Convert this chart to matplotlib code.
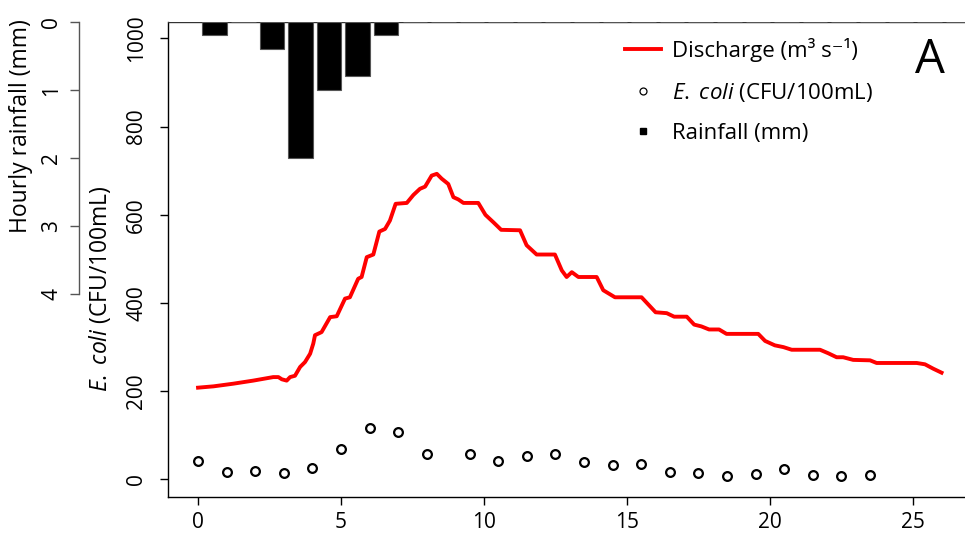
import matplotlib
matplotlib.use('Agg')
import matplotlib.pyplot as plt
from matplotlib.lines import Line2D

plt.rcParams['font.family'] = ['Open Sans', 'DejaVu Sans']
plt.rcParams['mathtext.fontset'] = 'custom'
plt.rcParams['mathtext.rm'] = 'Open Sans'
plt.rcParams['mathtext.it'] = 'Open Sans:italic'

# ============================================================
# data
# ============================================================
# hourly rainfall, bars drawn at hour + 0.58
rain_hours = [0, 1, 2, 3, 4, 5, 6, 7, 8, 9, 10, 11, 12, 13, 14,
              15, 16, 17, 18, 19, 20, 21, 22, 23, 24, 25, 26]
rain_mm = [0.2, 0.0, 0.4, 2.0, 1.0, 0.8, 0.2, 0.0, 0.0, 0.0, 0.0, 0.0, 0.0, 0.0, 0.0,
           0.0, 0.0, 0.0, 0.0, 0.0, 0.0, 0.0, 0.0, 0.0, 0.0, 0.0, 0.0]

# E. coli samples
ecoli_hours = [0, 1, 2, 3, 4, 5, 6, 7, 8, 9.5, 10.5, 11.5, 12.5, 13.5, 14.5,
               15.5, 16.5, 17.5, 18.5, 19.5, 20.5, 21.5, 22.5, 23.5]
ecoli_cfu = [42, 16, 20, 15, 26, 68, 116, 107, 57, 58, 41, 52, 57, 39, 33,
             34, 17, 15, 7, 12, 24, 11, 8, 11]

# discharge trace (drawn on the E. coli scale)
q_hours = [0.0, 0.54, 1.23, 1.93, 2.28, 2.63, 2.81, 2.93, 3.1, 3.22, 3.39, 3.57, 3.74,
           3.92, 4.03, 4.09, 4.32, 4.62, 4.85, 5.14, 5.31, 5.6, 5.72, 5.9, 6.13, 6.34,
           6.54, 6.71, 6.91, 7.3, 7.53, 7.76, 7.94, 8.17, 8.35, 8.52, 8.75, 8.93, 9.1,
           9.28, 9.8, 10.05, 10.33, 10.6, 11.26, 11.49, 11.84, 12.48, 12.72, 12.89,
           13.07, 13.3, 13.94, 14.17, 14.58, 15.51, 16.0, 16.39, 16.65, 17.09, 17.35,
           17.6, 17.87, 18.22, 18.48, 19.59, 19.83, 20.17, 20.47, 20.76, 21.75, 22.04,
           22.33, 22.56, 22.91, 23.5, 23.73, 25.13, 25.42, 25.71, 26.0]
q_vals = [208, 211, 217, 224, 228, 232, 232, 227, 224, 232, 235, 255, 266,
          285, 308, 327, 334, 368, 370, 410, 413, 455, 459, 504, 510, 562,
          568, 587, 625, 627, 645, 659, 664, 689, 693, 682, 670, 640, 635,
          627, 627, 600, 583, 566, 565, 531, 510, 510, 474, 459,
          470, 459, 459, 429, 413, 413, 379, 377, 369, 369, 351,
          347, 340, 340, 330, 330, 314, 304, 300, 294, 294, 286,
          277, 277, 271, 270, 264, 264, 261, 251, 242]

x_ticks = [0, 5, 10, 15, 20, 25]
ecoli_ticks = [0, 200, 400, 600, 800, 1000]
rain_ticks = [0, 1, 2, 3, 4]

# ============================================================
# plot
# ============================================================
fig = plt.figure(figsize=(9.65, 5.39), dpi=100)
ax = fig.add_axes([0.1741, 0.0779, 0.8259, 0.8818])

ax.plot(q_hours, q_vals, color='#ff0000', lw=2.8, solid_joinstyle='round', zorder=3)
ax.plot(ecoli_hours, ecoli_cfu, ls='none', marker='o', ms=6.3, mfc='none',
        mec='black', mew=1.6, zorder=4)

ax.set_xlim(-1.05, 26.82)
ax.set_ylim(-40, 1038)
ax.set_xticks(x_ticks)
ax.set_yticks(ecoli_ticks)
ax.spines['top'].set_visible(False)
ax.spines['right'].set_visible(False)
for s in ['left', 'bottom']:
    ax.spines[s].set_linewidth(1.0)
ax.tick_params(axis='both', length=6, width=1.0, labelsize=15)
ax.tick_params(axis='x', pad=5)
ax.tick_params(axis='y', labelrotation=90, pad=9)
for lab in ax.get_yticklabels():
    lab.set_va('center')
ecoli_text = r'$\mathit{E.}$ $\mathit{coli}$ (CFU/100mL)'
ax.set_ylabel(ecoli_text, fontsize=16.5)
ax.yaxis.set_label_coords(-0.069, 0.439)

# rainfall on its own inverted axis
ax2 = ax.twinx()
ax2.bar([h + 0.58 for h in rain_hours], rain_mm, width=0.86, color='black',
        edgecolor='#555555', linewidth=0.8, align='center')
ax2.axhline(0, color='#333333', lw=1.0, zorder=0)
ax2.set_ylim(6.98, 0)
ax2.set_yticks(rain_ticks)
for s in ['top', 'right', 'bottom']:
    ax2.spines[s].set_visible(False)
ax2.yaxis.tick_left()
ax2.yaxis.set_label_position('left')
ax2.spines['left'].set_position(('outward', 64))
ax2.spines['left'].set_bounds(0, 4)
ax2.spines['left'].set_linewidth(1.0)
ax2.spines['left'].set_color('#555555')
ax2.tick_params(axis='y', length=6.5, width=1.0, color='#555555', labelsize=15,
                labelrotation=90, pad=5.5)
for lab in ax2.get_yticklabels():
    lab.set_va('center')
ax2.set_ylabel('Hourly rainfall (mm)', fontsize=16.5)
ax2.yaxis.set_label_coords(-0.169, 0.78)

handles = [
    Line2D([], [], color='#ff0000', lw=2.8),
    Line2D([], [], ls='none', marker='o', ms=5, mfc='none', mec='black', mew=0.9),
    Line2D([], [], ls='none', marker='s', ms=4, color='black'),
]
labels = ['Discharge (m³ s⁻¹)', ecoli_text, 'Rainfall (mm)']
fig.legend(handles, labels, loc='upper left', bbox_to_anchor=(0.648, 0.929),
           frameon=False, fontsize=16, handlelength=1.6, handletextpad=0.5,
           labelspacing=0.85, borderpad=0, borderaxespad=0)

fig.text(0.964, 0.888, 'A', fontsize=34, ha='center', va='center')

fig.savefig('out.png', dpi=100)
